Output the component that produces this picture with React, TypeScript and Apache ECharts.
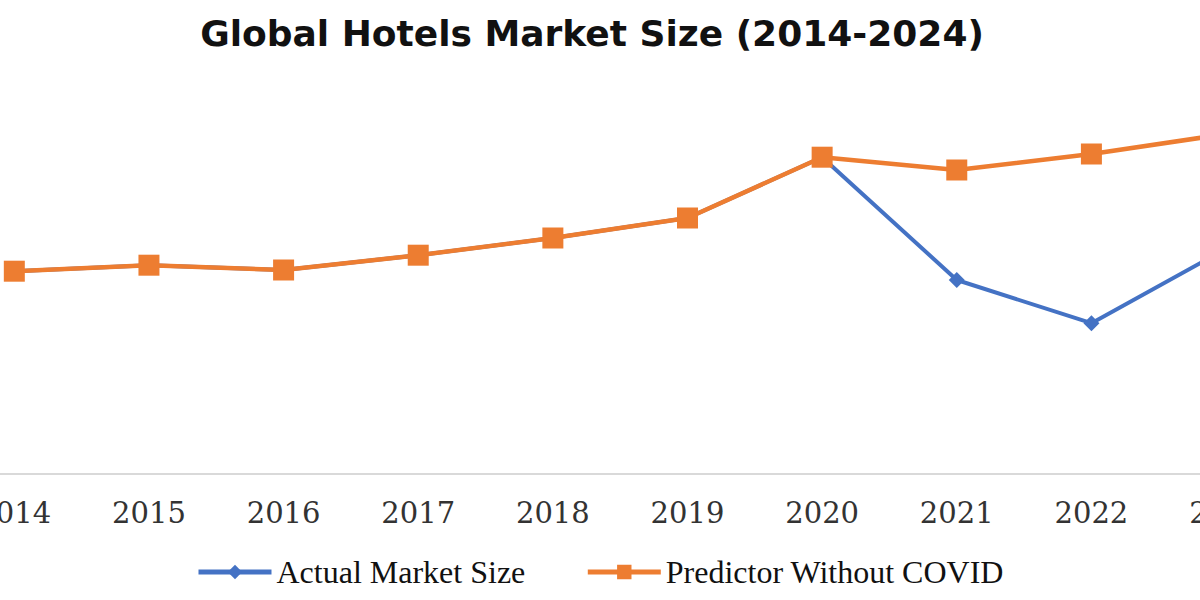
import { useEffect, useRef } from 'react';
import * as echarts from 'echarts';

// years on the x axis (the reference is cropped: 2014 and 2023 are cut at the edges)
const years = ['2014', '2015', '2016', '2017', '2018', '2019', '2020', '2021', '2022', '2023', '2024'];

// market size, USD bn
const actualMarketSize = [507, 522, 510, 547, 590, 640, 792, 485, 377, 563, 700];
const predictorWithoutCovid = [507, 522, 510, 547, 590, 640, 792, 760, 800, 850, 885];

const BLUE = '#4472C4';
const ORANGE = '#ED7D31';

export default function App() {
  const ref = useRef<HTMLDivElement | null>(null);

  useEffect(() => {
    document.body.style.margin = '0';
    if (!ref.current) return;
    const chart = echarts.init(ref.current, undefined, { renderer: 'svg' });
    chart.setOption({
      animation: false,
      backgroundColor: '#fff',
      title: {
        text: 'Global Hotels Market Size (2014-2024)',
        left: 587,
        textAlign: 'center',
        top: 10,
        textStyle: { fontFamily: 'DejaVu Sans', fontWeight: 'bold', fontSize: 36, color: '#111' },
      },
      legend: {
        data: ['Actual Market Size', 'Predictor Without COVID'],
        left: 'center',
        top: 551,
        itemWidth: 73,
        itemHeight: 18,
        itemGap: 60,
        lineStyle: { width: 5 },
        textStyle: { fontFamily: 'Liberation Serif', fontSize: 32, color: '#111' },
      },
      grid: { left: -53, right: -228, top: 74, bottom: 126, outerBoundsMode: 'none' },
      xAxis: {
        type: 'category',
        data: years,
        axisLine: { lineStyle: { color: '#d9d9d9', width: 2 } },
        axisTick: { show: false },
        axisLabel: { margin: 24, fontFamily: 'DejaVu Serif', fontSize: 29, color: '#333' },
      },
      yAxis: { type: 'value', min: 0, max: 1000, show: false, splitLine: { show: false } },
      series: [
        {
          name: 'Actual Market Size',
          type: 'line',
          data: actualMarketSize,
          symbol: 'diamond',
          symbolSize: 16,
          color: BLUE,
          lineStyle: { width: 4, color: BLUE },
          itemStyle: { color: BLUE },
        },
        {
          name: 'Predictor Without COVID',
          type: 'line',
          data: predictorWithoutCovid,
          symbol: 'rect',
          symbolSize: 21,
          color: ORANGE,
          lineStyle: { width: 4.5, color: ORANGE },
          itemStyle: { color: ORANGE },
        },
      ],
    });
    return () => chart.dispose();
  }, []);

  return <div ref={ref} style={{ width: 1200, height: 600 }} />;
}
